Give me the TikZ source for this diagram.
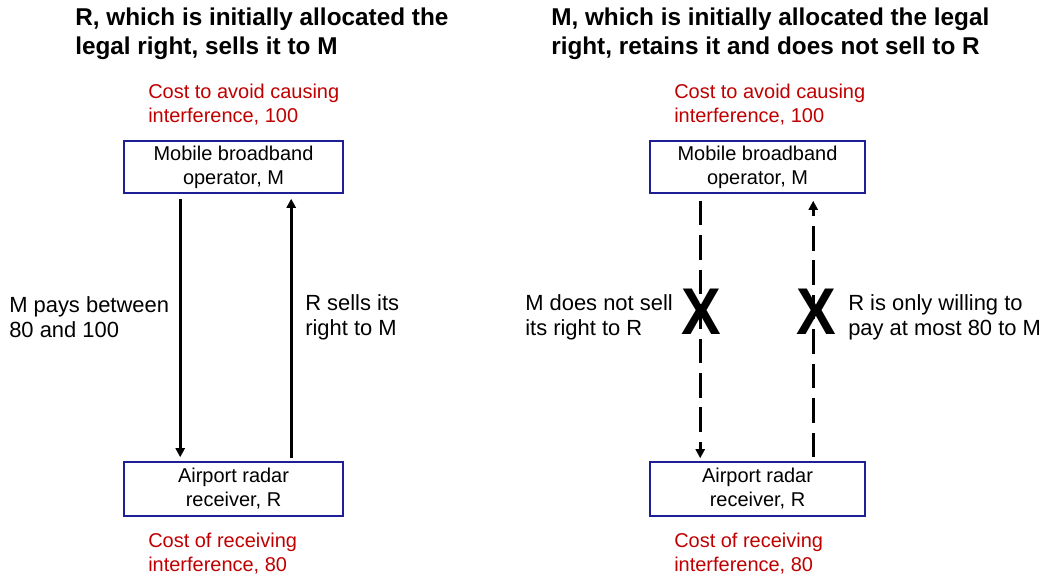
\documentclass[tikz,border=0pt]{standalone}
\usepackage{fontspec}
\setmainfont{Liberation Sans}
\usetikzlibrary{arrows.meta}
\definecolor{boxblue}{RGB}{30,30,150}
\definecolor{costred}{RGB}{192,0,0}
\tikzset{
  body/.style={font=\fontsize{14.2pt}{17.1pt}\selectfont},
  party/.style={body, draw=boxblue, line width=1.1pt, align=center, inner sep=0pt},
  cost/.style={body, anchor=west, align=left, inner sep=0pt, text=costred},
  note/.style={anchor=west, align=left, inner sep=0pt, font=\fontsize{15.6pt}{17.8pt}\selectfont},
  heading/.style={anchor=west, align=left, inner sep=0pt, font=\bfseries\fontsize{17.3pt}{20.6pt}\selectfont},
  flow/.style={line width=2.1pt, -{Triangle[width=6.5pt,length=6.5pt]}},
  blocked/.style={flow, dash pattern=on 17.5pt off 7pt},
  cross/.style={inner sep=0pt, xscale=0.9, font=\bfseries\fontsize{47pt}{47pt}\selectfont}
}
\begin{document}
\begin{tikzpicture}[x=0.025cm, y=-0.025cm]
  \useasboundingbox (0,0) rectangle (1049,576);
  % left: R sells the right
  \node[heading] (titleL) at (75,34) {R, which is initially allocated the\\legal right, sells it to M};
  \node[cost] (avoidL) at (148,105) {Cost to avoid causing\\interference, 100};
  \node[party, minimum width=5.475cm, minimum height=1.3cm] (mL) at (233.5,167) {Mobile broadband\\operator, M};
  \node[party, minimum width=5.475cm, minimum height=1.35cm] (rL) at (233.5,489) {Airport radar\\receiver, R};
  \node[cost] (recvL) at (148,554) {Cost of receiving\\interference, 80};
  \draw[flow] ([shift={(57,5)}]mL.south west) -- ([shift={(57,-4)}]rL.north west);
  \draw[flow] ([shift={(168,-3)}]rL.north west) -- ([shift={(168,5)}]mL.south west);
  \node[note] (payL) at (9,317) {M pays between\\80 and 100};
  \node[note] (sellL) at (305,317) {R sells its\\right to M};
  % right: M keeps the right
  \node[heading] (titleR) at (551,34) {M, which is initially allocated the legal\\right, retains it and does not sell to R};
  \node[cost] (avoidR) at (674,105) {Cost to avoid causing\\interference, 100};
  \node[party, minimum width=5.375cm, minimum height=1.3cm] (mR) at (757.5,167) {Mobile broadband\\operator, M};
  \node[party, minimum width=5.375cm, minimum height=1.35cm] (rR) at (757.5,489) {Airport radar\\receiver, R};
  \node[cost] (recvR) at (674,554) {Cost of receiving\\interference, 80};
  \draw[blocked] ([shift={(51,7)}]mR.south west) -- ([shift={(51,-3)}]rR.north west);
  \draw[blocked] ([shift={(164,-4)}]rR.north west) -- ([shift={(164,7)}]mR.south west);
  \node[cross] (noSell) at (701,312) {X};
  \node[cross] (noBuy) at (816,312) {X};
  \node[note] (sellR) at (525,317) {M does not sell\\its right to R};
  \node[note] (payR) at (848,317) {R is only willing to\\pay at most 80 to M};
\end{tikzpicture}
\end{document}
